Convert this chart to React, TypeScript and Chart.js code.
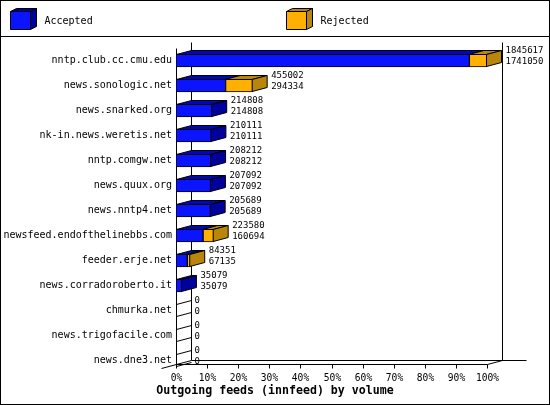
import { useEffect, useRef } from 'react'
import { Chart, registerables } from 'chart.js'
Chart.register(...registerables)

const hosts = [
  'nntp.club.cc.cmu.edu',
  'news.sonologic.net',
  'news.snarked.org',
  'nk-in.news.weretis.net',
  'nntp.comgw.net',
  'news.quux.org',
  'news.nntp4.net',
  'newsfeed.endofthelinebbs.com',
  'feeder.erje.net',
  'news.corradoroberto.it',
  'chmurka.net',
  'news.trigofacile.com',
  'news.dne3.net',
]
const offered = [1845617, 455002, 214808, 210111, 208212, 207092, 205689, 223580, 84351, 35079, 0, 0, 0]
const accepted = [1741050, 294334, 214808, 210111, 208212, 207092, 205689, 160694, 67135, 35079, 0, 0, 0]
const xTicks = [0, 10, 20, 30, 40, 50, 60, 70, 80, 90, 100]
const legendNames = ['Accepted', 'Rejected']
const title = 'Outgoing feeds (innfeed) by volume'

const DX = 15
const DY = 4
const MONO = '"DejaVu Sans Mono", monospace'
const FONT = `10px ${MONO}`
const SMALL = `9px ${MONO}`
const BLUE = '#0a14ff'
const BLUE_TOP = '#0008b4'
const BLUE_SIDE = '#00009c'
const ORANGE = '#ffb000'
const ORANGE_DARK = '#b8860b'

const maxVal = Math.max(...offered)
const accPct = accepted.map(v => (v / maxVal) * 100)
const rejPct = offered.map((v, i) => ((v - accepted[i]) / maxVal) * 100)

type Pt = [number, number]
function poly(ctx: CanvasRenderingContext2D, pts: Pt[], fill?: string) {
  ctx.beginPath()
  ctx.moveTo(pts[0][0], pts[0][1])
  for (let k = 1; k < pts.length; k++) ctx.lineTo(pts[k][0], pts[k][1])
  ctx.closePath()
  if (fill) { ctx.fillStyle = fill; ctx.fill() }
  ctx.stroke()
}
function line(ctx: CanvasRenderingContext2D, x1: number, y1: number, x2: number, y2: number) {
  ctx.beginPath(); ctx.moveTo(x1, y1); ctx.lineTo(x2, y2); ctx.stroke()
}
function cube(ctx: CanvasRenderingContext2D, x: number, y: number, front: string, dark: string) {
  const w = 20, h = 18, d = 6, e = 3
  poly(ctx, [[x, y], [x + d, y - e], [x + w + d, y - e], [x + w, y]], dark)
  poly(ctx, [[x + w, y], [x + w + d, y - e], [x + w + d, y + h - e], [x + w, y + h]], dark)
  poly(ctx, [[x, y], [x + w, y], [x + w, y + h], [x, y + h]], front)
}

const frame3d = {
  id: 'frame3d',
  beforeDraw(chart: any) {
    const ctx: CanvasRenderingContext2D = chart.ctx
    const W = chart.width, H = chart.height
    ctx.save()
    ctx.fillStyle = '#fff'
    ctx.fillRect(0, 0, W, H)
    ctx.strokeStyle = '#000'
    ctx.lineWidth = 1
    ctx.strokeRect(0.5, 0.5, W - 1, H - 1)
    line(ctx, 0, 36.5, W, 36.5)
    // legend
    const lx = [10.5, 286.5]
    const cols = [[BLUE, BLUE_SIDE], [ORANGE, ORANGE_DARK]]
    ctx.font = FONT
    ctx.textBaseline = 'middle'
    ctx.textAlign = 'left'
    legendNames.forEach((name, k) => {
      cube(ctx, lx[k], 11.5, cols[k][0], cols[k][1])
      ctx.fillStyle = '#000'
      ctx.fillText(name, lx[k] + 34, 21)
    })
    ctx.restore()
  },
  beforeDatasetsDraw(chart: any) {
    const ctx: CanvasRenderingContext2D = chart.ctx
    const xs = chart.scales.x
    const area = chart.chartArea
    const x0 = Math.round(xs.getPixelForValue(0)) + 0.5
    const x1 = Math.round(xs.getPixelForValue(100)) + 0.5
    const front = 364.5
    const back = front - DY
    const top = Math.round(area.top) + 0.5
    ctx.save()
    ctx.strokeStyle = '#000'
    ctx.lineWidth = 1
    // back walls and floor
    line(ctx, x0 + DX, top - DY - 2, x0 + DX, back)
    line(ctx, x1 + DX, top - DY - 2, x1 + DX, back)
    line(ctx, x0 + DX, back, x1 + DX + 24, back)
    line(ctx, x0, top, x0, front)
    line(ctx, x0, front, x1, front)
    line(ctx, x0 - DX, front + DY, x0 + DX, back)
    line(ctx, x1, front, x1 + DX, back)
    // ticks
    ctx.font = `9.6px ${MONO}`
    ctx.fillStyle = '#000'
    ctx.textAlign = 'center'
    ctx.textBaseline = 'middle'
    xTicks.forEach(v => {
      const px = Math.round(xs.getPixelForValue(v)) + 0.5
      line(ctx, px, front, px, front + 4)
      ctx.fillText(`${v}%`, px, 378)
    })
    ctx.font = `bold 11.6px ${MONO}`
    ctx.fillText(title, chart.width / 2, 391)
    ctx.restore()
  },
  afterDatasetsDraw(chart: any) {
    const ctx: CanvasRenderingContext2D = chart.ctx
    const xs = chart.scales.x
    const m0 = chart.getDatasetMeta(0)
    const m1 = chart.getDatasetMeta(1)
    const left = Math.round(xs.getPixelForValue(0)) + 0.5
    ctx.save()
    ctx.strokeStyle = '#000'
    ctx.lineWidth = 1
    ctx.font = SMALL
    ctx.textAlign = 'left'
    ctx.textBaseline = 'middle'
    hosts.forEach((_, i) => {
      const a = m0.data[i].getProps(['x', 'y', 'height'], true)
      const r = m1.data[i].getProps(['x'], true)
      const t = a.y - a.height / 2 + 0.5
      const b = a.y + a.height / 2 - 0.5
      const aEnd = a.x - 0.5
      const tEnd = r.x - 0.5
      if (offered[i] === 0) {
        line(ctx, left, t, left + DX, t - DY)
        line(ctx, left, b, left + DX, b - DY)
        line(ctx, left, t, left, b)
      } else {
        if (accepted[i] > 0) {
          poly(ctx, [[left, t], [left + DX, t - DY], [aEnd + DX, t - DY], [aEnd, t]], BLUE_TOP)
        }
        if (offered[i] > accepted[i]) {
          poly(ctx, [[aEnd, t], [aEnd + DX, t - DY], [tEnd + DX, t - DY], [tEnd, t]], ORANGE_DARK)
        }
        const side = offered[i] > accepted[i] ? ORANGE_DARK : BLUE_SIDE
        poly(ctx, [[tEnd, t], [tEnd + DX, t - DY], [tEnd + DX, b - DY], [tEnd, b]], side)
      }
      ctx.fillStyle = '#000'
      const tx = tEnd + DX + 4
      ctx.fillText(String(offered[i]), tx, a.y - 10)
      ctx.fillText(String(accepted[i]), tx, a.y + 1.5)
    })
    ctx.restore()
  },
}

export default function App() {
  const ref = useRef<HTMLCanvasElement | null>(null)
  useEffect(() => {
    document.body.style.margin = '0'
    if (!ref.current) return
    const chart = new Chart(ref.current, {
      type: 'bar',
      data: {
        labels: hosts,
        datasets: [
          { label: legendNames[0], data: accPct, backgroundColor: BLUE, borderColor: '#000', borderWidth: 1, borderSkipped: false },
          { label: legendNames[1], data: rejPct, backgroundColor: ORANGE, borderColor: '#000', borderWidth: 1, borderSkipped: false },
        ],
      },
      options: {
        indexAxis: 'y',
        responsive: false,
        animation: false,
        devicePixelRatio: 1,
        datasets: { bar: { barThickness: 13 } },
        layout: { padding: { top: 48, bottom: 32, left: 0, right: 63 } },
        plugins: { legend: { display: false }, tooltip: { enabled: false } },
        scales: {
          x: { stacked: true, min: 0, max: 100, display: false },
          y: {
            stacked: true,
            grid: { display: false, drawTicks: false },
            border: { display: false },
            ticks: { autoSkip: false, padding: 4, color: '#000', font: { family: 'DejaVu Sans Mono', size: 10 } },
            afterFit: (s: any) => { s.width = 176 },
          },
        },
      },
      plugins: [frame3d],
    })
    return () => chart.destroy()
  }, [])
  return <canvas ref={ref} width={550} height={405} style={{ display: 'block' }} />
}
